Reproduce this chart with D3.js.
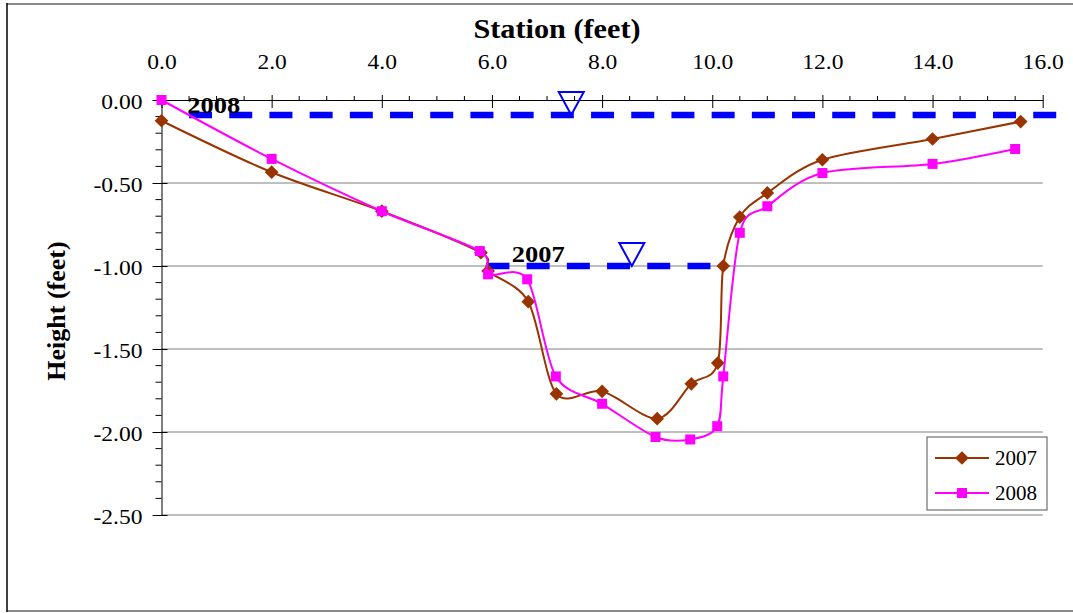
<!DOCTYPE html>
<html>
<head>
<meta charset="utf-8">
<script src="https://cdn.jsdelivr.net/npm/d3@7"></script>
<style>
  html, body { margin: 0; padding: 0; background: #fff; }
  svg { display: block; }
  text { font-family: "Liberation Serif", "Times New Roman", serif; }
</style>
</head>
<body>
<svg id="chart" width="1073" height="613"></svg>
<script>
// Channel cross-section survey: station along the transect vs. bed height
const station2007 = [0, 2.0, 4.0, 5.8, 5.93, 6.66, 7.17, 8.0, 9.0, 9.62, 10.1, 10.2, 10.5, 11.0, 12.0, 14.0, 15.6];
const height2007  = [-0.125, -0.435, -0.67, -0.92, -1.03, -1.215, -1.77, -1.755, -1.92, -1.71, -1.585, -1.0, -0.705, -0.56, -0.36, -0.235, -0.13];

const station2008 = [0, 2.0, 4.0, 5.78, 5.93, 6.64, 7.16, 8.0, 8.97, 9.6, 10.09, 10.2, 10.5, 11.0, 12.0, 14.0, 15.5];
const height2008  = [0, -0.355, -0.67, -0.91, -1.05, -1.08, -1.665, -1.83, -2.03, -2.045, -1.965, -1.665, -0.80, -0.64, -0.44, -0.385, -0.295];

// Water surface elevations (start station, end station, height, marker station)
const waterYears   = ["2008", "2007"];
const waterStart   = [0.5, 5.9];
const waterEnd     = [16.25, 10.2];
const waterLevel   = [-0.09, -1.0];
const waterMarker  = [7.44, 8.54];

const xTicks = [0, 2, 4, 6, 8, 10, 12, 14, 16];
const yTicks = [0, -0.5, -1.0, -1.5, -2.0, -2.5];

const svg = d3.select("#chart");

const x = d3.scaleLinear().domain([0, 16]).range([161.5, 1042.7]);
const y = d3.scaleLinear().domain([0, -2.5]).range([100, 515]);

// Widen a text element horizontally by factor k (keeps its anchor)
function widen(sel, k) {
  sel.each(function () {
    const w = this.getComputedTextLength();
    this.setAttribute("textLength", (w * k).toFixed(2));
    this.setAttribute("lengthAdjust", "spacingAndGlyphs");
  });
}

// Outer chart frame
svg.append("line").attr("x1", 7).attr("x2", 1073).attr("y1", 4).attr("y2", 4)
  .attr("stroke", "#8a8a8a").attr("stroke-width", 2);
svg.append("line").attr("x1", 7).attr("x2", 1073).attr("y1", 611).attr("y2", 611)
  .attr("stroke", "#8a8a8a").attr("stroke-width", 2);
svg.append("line").attr("x1", 7).attr("x2", 7).attr("y1", 3).attr("y2", 612)
  .attr("stroke", "#000").attr("stroke-width", 1.5);

// Horizontal gridlines
svg.append("g").selectAll("line")
  .data(yTicks.filter(d => d !== 0))
  .join("line")
  .attr("x1", x(0)).attr("x2", x(16))
  .attr("y1", d => y(d)).attr("y2", d => y(d))
  .attr("stroke", "#7f7f7f").attr("stroke-width", 1);

const hyphen = f => d => f(d).replace("\u2212", "-");

// Top station axis
const xMinor = d3.range(0, 16.01, 0.5).filter(d => d % 2 !== 0);
const xAxis = svg.append("g").attr("transform", `translate(0,${y(0)})`)
  .call(d3.axisTop(x).tickValues(xTicks).tickFormat(hyphen(d3.format(".1f")))
    .tickSizeOuter(0).tickSizeInner(5).tickPadding(26));
xAxis.attr("font-family", null).attr("font-size", null);
xAxis.select(".domain").attr("stroke", "#000");
xAxis.selectAll(".tick line").attr("y2", 8).attr("y1", -5).attr("stroke", "#000");
xAxis.selectAll("text").attr("font-size", 21).attr("fill", "#000");
xAxis.append("g").selectAll("line").data(xMinor).join("line")
  .attr("x1", d => x(d)).attr("x2", d => x(d)).attr("y1", -4).attr("y2", 0)
  .attr("stroke", "#000");

// Left height axis
const yMinor = d3.range(0, -2.501, -0.1).filter(d => Math.abs((d * 10) % 5) > 0.01);
const yAxis = svg.append("g").attr("transform", `translate(${x(0)},0)`)
  .call(d3.axisLeft(y).tickValues(yTicks).tickFormat(hyphen(d3.format(".2f")))
    .tickSizeOuter(0).tickSizeInner(8).tickPadding(11));
yAxis.attr("font-family", null).attr("font-size", null);
yAxis.select(".domain").attr("stroke", "#000");
yAxis.selectAll(".tick line").attr("x1", -9).attr("x2", 6).attr("stroke", "#000");
yAxis.selectAll("text").attr("font-size", 21).attr("fill", "#000").attr("dy", "0.4em");
yAxis.append("g").selectAll("line").data(yMinor).join("line")
  .attr("x1", -6).attr("x2", 0).attr("y1", d => y(d)).attr("y2", d => y(d))
  .attr("stroke", "#000");

// Axis titles
const xTitle = svg.append("text").attr("x", 557).attr("y", 38).attr("text-anchor", "middle")
  .attr("font-size", 28).attr("font-weight", "bold").text("Station (feet)");
const yTitle = svg.append("text").attr("transform", "translate(65,311) rotate(-90)").attr("text-anchor", "middle")
  .attr("font-size", 26).attr("font-weight", "bold").text("Height (feet)");

// Water surface lines with inverted-triangle markers
waterYears.forEach((yr, i) => {
  svg.append("line")
    .attr("x1", x(waterStart[i])).attr("x2", x(waterEnd[i]))
    .attr("y1", y(waterLevel[i])).attr("y2", y(waterLevel[i]))
    .attr("stroke", "#0000ff").attr("stroke-width", 6.5)
    .attr("stroke-dasharray", "23,17.2");
  const cx = x(waterMarker[i]), cy = y(waterLevel[i]);
  svg.append("path")
    .attr("d", `M${cx - 12.5},${cy - 23}L${cx + 12.5},${cy - 23}L${cx},${cy}Z`)
    .attr("fill", "none").attr("stroke", "#0000ff").attr("stroke-width", 2);
});

const yearLabels = svg.append("g").attr("font-size", 23).attr("font-weight", "bold");
yearLabels.append("text").attr("x", x(0.47)).attr("y", y(-0.08)).text("2008");
yearLabels.append("text").attr("x", x(6.36)).attr("y", y(-0.975)).text("2007");

// Survey profiles
const curve = d3.line().curve(d3.curveCardinal.tension(0.1));
const series = [
  { name: "2007", xs: station2007, ys: height2007, color: "#993300", marker: d3.symbolDiamond2, size: 120 },
  { name: "2008", xs: station2008, ys: height2008, color: "#ff00ff", marker: d3.symbolSquare, size: 100 }
];

series.forEach(s => {
  const pts = s.xs.map((v, i) => [x(v), y(s.ys[i])]);
  svg.append("path").attr("d", curve(pts)).attr("fill", "none")
    .attr("stroke", s.color).attr("stroke-width", 2);
  svg.append("g").selectAll("path").data(pts).join("path")
    .attr("transform", d => `translate(${d[0]},${d[1]})`)
    .attr("d", d3.symbol(s.marker, s.size))
    .attr("fill", s.color);
});

// Legend
const lg = svg.append("g");
lg.append("rect").attr("x", 927).attr("y", 437).attr("width", 120).attr("height", 73)
  .attr("fill", "#fff").attr("stroke", "#6f6f6f").attr("stroke-width", 1.2);
series.forEach((s, i) => {
  const ly = 458 + i * 35;
  lg.append("line").attr("x1", 935).attr("x2", 989).attr("y1", ly).attr("y2", ly)
    .attr("stroke", s.color).attr("stroke-width", 2);
  lg.append("path").attr("transform", `translate(962,${ly})`)
    .attr("d", d3.symbol(s.marker, s.size)).attr("fill", s.color);
  lg.append("text").attr("x", 995).attr("y", ly + 7).attr("font-size", 21).text(s.name);
});

// Slightly wide type, as in the printed figure
widen(xAxis.selectAll("text"), 1.12);
widen(yAxis.selectAll("text"), 1.12);
widen(xTitle, 1.08);
widen(yearLabels.selectAll("text"), 1.15);
</script>
</body>
</html>
